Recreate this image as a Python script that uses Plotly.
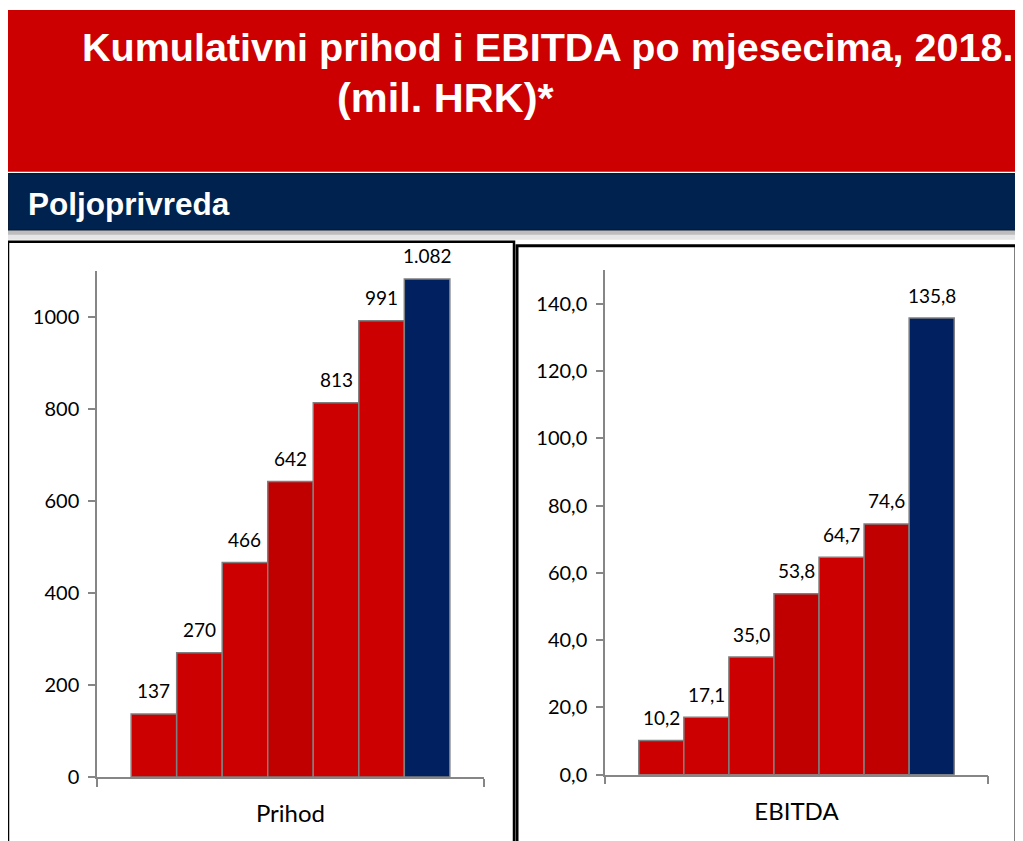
import plotly.graph_objects as go

# ---------------- data ----------------
months = [1, 2, 3, 4, 5, 6, 7]
prihod = [137, 270, 466, 642, 813, 991, 1082]
ebitda = [10.2, 17.1, 35.0, 53.8, 64.7, 74.6, 135.8]

prihod_ticks = [0, 200, 400, 600, 800, 1000]
prihod_ticktext = ["0", "200", "400", "600", "800", "1000"]
ebitda_ticks = [0, 20, 40, 60, 80, 100, 120, 140]
ebitda_ticktext = ["0,0", "20,0", "40,0", "60,0", "80,0", "100,0", "120,0", "140,0"]

title_line1 = "Kumulativni prihod i EBITDA po mjesecima, 2018."
title_line2 = "(mil. HRK)*"
section = "Poljoprivreda"
xlabel_left = "Prihod"
xlabel_right = "EBITDA"

RED = "#CC0000"
DARK = "#C00000"
NAVY = "#002060"
prihod_colors = [RED, RED, RED, DARK, RED, RED, NAVY]
ebitda_colors = [RED, RED, RED, DARK, RED, DARK, NAVY]

# page has an 8px body margin
OFF = 8
W, H = 1023 - OFF, 841 - OFF
KV = 1 / 0.988  # vertical correction


def X(px):
    return (px - OFF) / W


def Y(py):
    return 1 - (10 + (py - 10) * KV - OFF) / H


def fmt_prihod(v):
    return f"{v:,}".replace(",", ".")


def fmt_ebitda(v):
    return f"{v:.1f}".replace(".", ",")


SANS = "Lato, Carlito, Calibri, sans-serif"
LABEL_FONT = dict(family=SANS, size=19, color="#000000")
AX_GRAY = "#868686"

fig = go.Figure()

fig.add_trace(go.Bar(
    x=[m - 1 for m in months], y=prihod, width=1,
    marker=dict(color=prihod_colors, line=dict(color="#7F7F7F", width=1.5)),
    xaxis="x", yaxis="y", showlegend=False, hoverinfo="skip",
))
fig.add_trace(go.Bar(
    x=[m - 1 for m in months], y=ebitda, width=1,
    marker=dict(color=ebitda_colors, line=dict(color="#7F7F7F", width=1.5)),
    xaxis="x2", yaxis="y2", showlegend=False, hoverinfo="skip",
))

annotations = []
for i, v in enumerate(prihod):
    annotations.append(dict(x=i, y=v, xref="x", yref="y", text=fmt_prihod(v),
                            showarrow=False, yshift=23, font=LABEL_FONT))
for i, v in enumerate(ebitda):
    annotations.append(dict(x=i, y=v, xref="x2", yref="y2", text=fmt_ebitda(v),
                            showarrow=False, yshift=23, font=LABEL_FONT))

HEAD = "Liberation Sans, Arial, sans-serif"
annotations.append(dict(x=X(80), y=Y(47), xref="paper", yref="paper", xanchor="left", yanchor="middle",
                        text="<b>" + title_line1 + "</b>", showarrow=False,
                        font=dict(family=HEAD, size=39.5, color="white")))
annotations.append(dict(x=X(335), y=Y(98), xref="paper", yref="paper", xanchor="left", yanchor="middle",
                        text="<b>" + title_line2 + "</b>", showarrow=False,
                        font=dict(family=HEAD, size=41.5, color="white")))
annotations.append(dict(x=X(26), y=Y(204), xref="paper", yref="paper", xanchor="left", yanchor="middle",
                        text="<b>" + section + "</b>", showarrow=False,
                        font=dict(family=HEAD, size=31.5, color="white")))

shapes = [
    # red header
    dict(type="rect", xref="paper", yref="paper", x0=X(7), x1=X(1030), y0=Y(172), y1=Y(10),
         fillcolor=RED, line=dict(width=0), layer="below"),
    # shadow under navy band
    dict(type="rect", xref="paper", yref="paper", x0=X(8), x1=X(1022), y0=Y(240), y1=Y(229),
         fillcolor="#E6E6E6", line=dict(width=0), layer="below"),
    dict(type="rect", xref="paper", yref="paper", x0=X(8), x1=X(1022), y0=Y(235), y1=Y(229),
         fillcolor="#BDBDBD", line=dict(width=0), layer="below"),
    # navy band
    dict(type="rect", xref="paper", yref="paper", x0=X(8), x1=X(1020), y0=Y(230), y1=Y(174),
         fillcolor="#00224E", line=dict(color="#0B1A33", width=1.5), layer="below"),
    # panel frames
    dict(type="rect", xref="paper", yref="paper", x0=X(8), x1=X(514), y0=Y(880), y1=Y(242),
         fillcolor="rgba(0,0,0,0)", line=dict(color="#000000", width=2.5), layer="below"),
    dict(type="rect", xref="paper", yref="paper", x0=X(517), x1=X(1016), y0=Y(880), y1=Y(246),
         fillcolor="rgba(0,0,0,0)", line=dict(color="#000000", width=3), layer="below"),
]

TICKFONT = dict(family=SANS, size=20, color="#000000")
TITLEFONT = dict(family=SANS, size=24, color="#000000")

xcommon = dict(range=[-1.25, 7.25], showgrid=False, zeroline=False, showline=True,
               linecolor=AX_GRAY, linewidth=1.5, ticks="outside", ticklen=8,
               tickcolor=AX_GRAY, tickwidth=1.5, tickmode="array",
               tickvals=[-1.249, 7.249], ticktext=["", ""], fixedrange=True)
ycommon = dict(showgrid=False, zeroline=False, showline=True, linecolor=AX_GRAY, linewidth=1.5,
               ticks="outside", ticklen=7, tickcolor=AX_GRAY, tickwidth=1.5,
               tickmode="array", tickfont=TICKFONT, ticklabelstandoff=5, fixedrange=True)

fig.update_layout(
    width=W, height=H,
    margin=dict(l=0, r=0, t=0, b=0),
    paper_bgcolor="white", plot_bgcolor="rgba(0,0,0,0)",
    barmode="overlay",
    xaxis=dict(domain=[X(97), X(484)], anchor="y",
               title=dict(text=xlabel_left, font=TITLEFONT, standoff=17), **xcommon),
    yaxis=dict(domain=[Y(778), Y(271)], anchor="x", range=[0, 1100],
               tickvals=prihod_ticks, ticktext=prihod_ticktext, **ycommon),
    xaxis2=dict(domain=[X(605), X(988)], anchor="y2",
                title=dict(text=xlabel_right, font=TITLEFONT, standoff=17), **xcommon),
    yaxis2=dict(domain=[Y(775.7), Y(270.7)], anchor="x2", range=[0, 150],
                tickvals=ebitda_ticks, ticktext=ebitda_ticktext, **ycommon),
    annotations=annotations,
    shapes=shapes,
)

fig.write_html("out.html")
